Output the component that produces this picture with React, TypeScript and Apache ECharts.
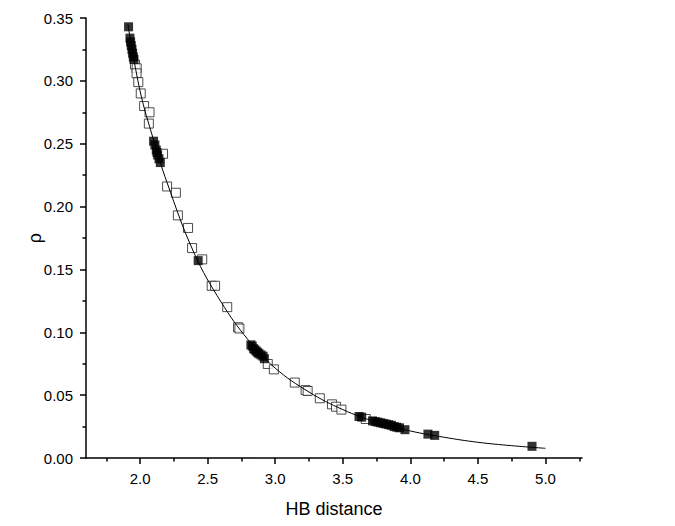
import React, { useEffect, useRef } from "react";
import * as echarts from "echarts";

// Filled squares
const filledX = [1.915, 1.925, 1.93, 1.935, 1.94, 1.945, 1.95, 1.955,
  2.10, 2.11, 2.12, 2.125, 2.13, 2.14, 2.15,
  2.43,
  2.82, 2.83, 2.84, 2.85, 2.86, 2.87, 2.88, 2.895, 2.91, 2.92,
  3.62, 3.64,
  3.72, 3.74, 3.76, 3.78, 3.80, 3.82, 3.84, 3.86, 3.88, 3.90, 3.92, 3.96,
  4.13, 4.18, 4.90];
const filledY = [0.343, 0.334, 0.331, 0.328, 0.325, 0.322, 0.319, 0.317,
  0.252, 0.249, 0.245, 0.243, 0.241, 0.238, 0.235,
  0.157,
  0.090, 0.089, 0.087, 0.086, 0.085, 0.084, 0.083, 0.082, 0.081, 0.079,
  0.033, 0.0325,
  0.0295, 0.029, 0.0285, 0.028, 0.0275, 0.027, 0.0265, 0.026, 0.025, 0.0245, 0.024, 0.0225,
  0.019, 0.018, 0.0093];

// Open squares
const openX = [1.962, 1.975, 1.974, 1.987, 2.005, 2.03, 2.07, 2.065, 2.17,
  2.20, 2.265, 2.28, 2.355, 2.385, 2.46, 2.53, 2.555, 2.645, 2.725, 2.735,
  2.945, 2.99, 3.145, 3.225, 3.24, 3.33, 3.42, 3.45, 3.49, 3.67];
const openY = [0.313, 0.310, 0.306, 0.299, 0.290, 0.280, 0.275, 0.266, 0.242,
  0.216, 0.211, 0.193, 0.183, 0.167, 0.158, 0.137, 0.137, 0.120, 0.104, 0.103,
  0.0748, 0.0705, 0.060, 0.054, 0.0533, 0.0475, 0.0427, 0.0408, 0.0385, 0.031];

// Fitted curve
const curveX = [1.91, 2.0, 2.1, 2.2, 2.4, 2.6, 2.8, 3.0, 3.25, 3.5, 3.75, 4.0, 4.25, 4.5, 4.75, 5.0];
const curveY = [0.345, 0.292, 0.253, 0.219, 0.163, 0.124, 0.094, 0.0715, 0.0525, 0.0385, 0.0285, 0.0215, 0.0165, 0.0125, 0.0098, 0.0077];

const xMajorTicks = [2.0, 2.5, 3.0, 3.5, 4.0, 4.5, 5.0];
const xMinorTicks = [1.75, 2.25, 2.75, 3.25, 3.75, 4.25, 4.75, 5.25];

const FONT = "'Liberation Sans', Arial, sans-serif";

export default function App() {
  const ref = useRef<HTMLDivElement>(null);
  useEffect(() => {
    if (!ref.current) return;
    const chart = echarts.init(ref.current, undefined, { renderer: "svg" });
    const zip = (xs: number[], ys: number[]) => xs.map((x, i) => [x, ys[i]]);
    const axisColor = "#000";
    chart.setOption({
      animation: false,
      backgroundColor: "#fff",
      grid: { left: 86, top: 18, right: 93, bottom: 68 },
      xAxis: [
        {
          type: "value",
          min: 1.6,
          max: 5.27,
          position: "bottom",
          axisLine: { show: true, onZero: false, lineStyle: { color: axisColor, width: 1.5 } },
          axisTick: { show: true, customValues: xMajorTicks, length: 6, lineStyle: { color: axisColor, width: 1.5 } },
          axisLabel: {
            customValues: xMajorTicks,
            formatter: (v: number) => v.toFixed(1),
            fontSize: 15, color: "#000", fontFamily: FONT, margin: 13,
          },
          splitLine: { show: false },
          name: "HB distance",
          nameLocation: "middle",
          nameGap: 42,
          nameTextStyle: { fontSize: 18, color: "#000", fontFamily: FONT },
        },
        {
          type: "value",
          min: 1.6,
          max: 5.27,
          position: "bottom",
          axisLine: { show: false, onZero: false },
          axisTick: { show: true, customValues: xMinorTicks, length: 3.5, lineStyle: { color: axisColor, width: 1.5 } },
          axisLabel: { show: false },
          splitLine: { show: false },
        },
      ],
      yAxis: {
        type: "value",
        min: 0,
        max: 0.35,
        interval: 0.05,
        axisLine: { show: true, onZero: false, lineStyle: { color: axisColor, width: 1.5 } },
        axisTick: { show: true, length: 6, lineStyle: { color: axisColor, width: 1.5 } },
        minorTick: { show: true, splitNumber: 2, length: 3.5, lineStyle: { color: axisColor, width: 1.5 } },
        axisLabel: {
          formatter: (v: number) => v.toFixed(2),
          fontSize: 15, color: "#000", fontFamily: FONT, margin: 13,
        },
        splitLine: { show: false },
        minorSplitLine: { show: false },
        name: "ρ",
        nameLocation: "middle",
        nameGap: 42,
        nameMoveOverlap: false,
        nameTextStyle: { fontSize: 18, color: "#000", fontFamily: FONT },
      },
      series: [
        {
          type: "scatter",
          xAxisIndex: 0,
          data: zip(openX, openY),
          symbol: "rect",
          symbolSize: 9,
          itemStyle: { color: "#fff", borderColor: "#222", borderWidth: 1 },
          z: 2,
        },
        {
          type: "scatter",
          xAxisIndex: 0,
          data: zip(filledX, filledY),
          symbol: "rect",
          symbolSize: 9,
          itemStyle: { color: "#000" },
          z: 3,
        },
        {
          type: "line",
          xAxisIndex: 0,
          data: zip(curveX, curveY),
          smooth: 0.4,
          showSymbol: false,
          symbol: "none",
          lineStyle: { color: "#000", width: 1 },
          z: 4,
        },
      ],
    });
    return () => chart.dispose();
  }, []);
  return (
    <div
      ref={ref}
      style={{ position: "absolute", left: 0, top: 0, width: 675, height: 526 }}
    />
  );
}
